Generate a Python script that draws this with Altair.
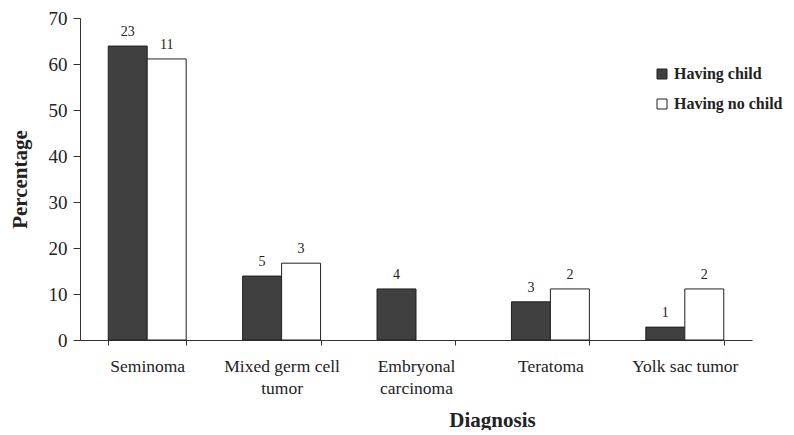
import altair as alt
import pandas as pd

diagnoses = ["Seminoma", "Mixed germ cell tumor", "Embryonal carcinoma", "Teratoma", "Yolk sac tumor"]
groups = ["Having child", "Having no child"]
pct_child = [63.9, 13.9, 11.1, 8.3, 2.8]
pct_nochild = [61.1, 16.7, 0.0, 11.1, 11.1]
n_child = [23, 5, 4, 3, 1]
n_nochild = [11, 3, None, 2, 2]

rows = []
for i, d in enumerate(diagnoses):
    rows.append({"Diagnosis": d, "Group": groups[0], "Percentage": pct_child[i], "n": n_child[i]})
    rows.append({"Diagnosis": d, "Group": groups[1], "Percentage": pct_nochild[i], "n": n_nochild[i]})
df = pd.DataFrame(rows)

FONT = "Liberation Serif"

label_expr = ("datum.value == 'Mixed germ cell tumor' ? ['Mixed germ cell', 'tumor'] : "
              "datum.value == 'Embryonal carcinoma' ? ['Embryonal', 'carcinoma'] : datum.value")

x = alt.X("Diagnosis:N", sort=diagnoses,
          scale=alt.Scale(paddingInner=0.42, paddingOuter=0.21),
          axis=alt.Axis(title="Diagnosis", labelAngle=0, labelExpr=label_expr,
                        tickBand="extent", tickSize=5, labelPadding=21,
                        labelFont=FONT, labelFontSize=17.5, labelColor="#222",
                        labelLineHeight=22, labelBaseline="middle",
                        titleFont=FONT, titleFontSize=21, titleFontWeight="bold",
                        titleColor="#222", titleX=412, titleY=80,
                        titleAlign="center", titleBaseline="middle",
                        domainColor="#333", tickColor="#333"))
y = alt.Y("Percentage:Q", scale=alt.Scale(domain=[0, 70]),
          axis=alt.Axis(title="Percentage", values=list(range(0, 71, 10)), grid=False,
                        tickSize=7, labelPadding=6,
                        labelFont=FONT, labelFontSize=19, labelColor="#222",
                        titleFont=FONT, titleFontSize=21, titleFontWeight="bold",
                        titleColor="#222", titlePadding=18,
                        domainColor="#333", tickColor="#333"))
xoff = alt.XOffset("Group:N", sort=groups)

bars = alt.Chart(df).transform_filter("datum.Percentage > 0").mark_bar(
    stroke="#222", strokeWidth=1).encode(
    x=x, y=y, xOffset=xoff,
    fill=alt.Fill("Group:N", sort=groups,
                  scale=alt.Scale(domain=groups, range=["#404040", "#ffffff"]),
                  legend=alt.Legend(title=None, orient="none", legendX=574, legendY=48,
                                    symbolType="square", symbolSize=100,
                                    symbolStrokeColor="#222", symbolStrokeWidth=1,
                                    labelFont=FONT, labelFontSize=16, labelFontWeight="bold",
                                    labelColor="#222", labelOffset=4, rowPadding=14,
                                    labelLimit=200)),
)

labels = alt.Chart(df).transform_filter("datum.n != null").mark_text(
    dy=-7, font=FONT, fontSize=14, fill="#222", baseline="bottom"
).encode(x=alt.X("Diagnosis:N", sort=diagnoses), y="Percentage:Q", xOffset=xoff,
         text=alt.Text("n:Q", format="d"))

chart = alt.layer(bars, labels).properties(
    width=672, height=322,
    autosize=alt.AutoSizeParams(type="none"),
    padding={"left": 72, "top": 10, "right": 34, "bottom": 90},
).configure_view(stroke=None)

chart.save("out.html", embed_options={"renderer": "svg", "actions": False})
